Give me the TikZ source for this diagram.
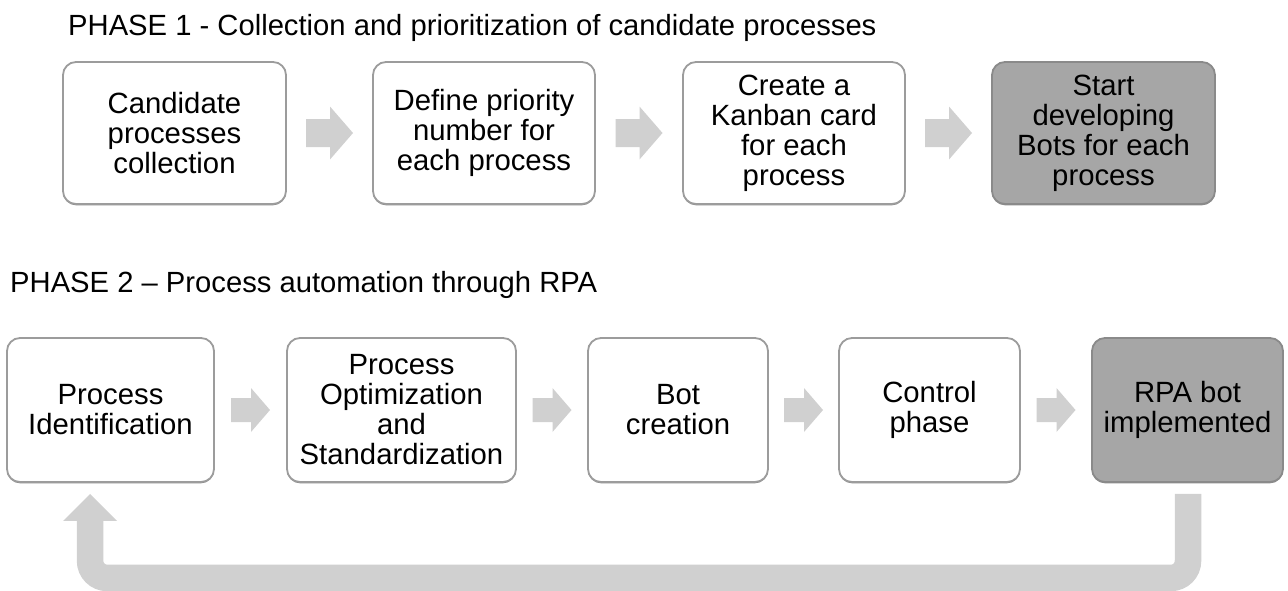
\documentclass[tikz,border=0pt]{standalone}
\usepackage{fontspec}
\setmainfont{Liberation Sans}
\usetikzlibrary{calc,shadows}

\definecolor{boxline}{HTML}{9C9C9C}
\definecolor{boxdark}{HTML}{A6A6A6}
\definecolor{boxdarkline}{HTML}{8A8A8A}
\definecolor{flowgray}{HTML}{D0D0D0}

% block arrow centred in the gap between two nodes:
% #1 from, #2 to, #3 total length, #4 head length, #5 shaft half height, #6 head half height
\newcommand{\blockarrow}[6]{%
  \path (#1.east) -- (#2.west) coordinate[midway] (mid);
  \fill[flowgray]
    ($(mid)+(-#3/2,-#5)$) -- ($(mid)+(#3/2-#4,-#5)$) -- ($(mid)+(#3/2-#4,-#6)$)
    -- ($(mid)+(#3/2,0)$) -- ($(mid)+(#3/2-#4,#6)$) -- ($(mid)+(#3/2-#4,#5)$)
    -- ($(mid)+(-#3/2,#5)$) -- cycle;
}

\begin{document}
\begin{tikzpicture}[x=1pt,y=-1pt,
  stepbox/.style={draw=boxline, line width=1.8pt, rounded corners=13pt, fill=white,
    align=center, inner sep=0pt, font=\fontsize{29.3}{30}\selectfont,
    general shadow={shadow yshift=-1.3pt, fill=black!45}},
  endbox/.style={stepbox, fill=boxdark, draw=boxdarkline},
  phasetitle/.style={anchor=base west, inner sep=0pt, font=\fontsize{29.2}{30}\selectfont},
  returnflow/.style={draw=flowgray, line width=26.5pt, rounded corners=17pt}]
\useasboundingbox (0,0) rectangle (1288,590);

% phase titles
\node[phasetitle] (t1) at (68,35) {PHASE 1 - Collection and prioritization of candidate processes};
\node[phasetitle] (t2) at (10,292) {PHASE 2 – Process automation through RPA};

% phase 1 steps
\node[stepbox, minimum width=223, minimum height=142] (p1a) at (174.5,133) {Candidate\\processes\\collection};
\node[stepbox, minimum width=222, minimum height=142] (p1b) at (484,133) {Define priority\\number for\\each process};
\node[stepbox, minimum width=222, minimum height=142] (p1c) at (794,133) {Create a\\Kanban card\\for each\\process};
\node[endbox,  minimum width=223, minimum height=142] (p1d) at (1103.5,133) {Start\\developing\\Bots for each\\process};

\blockarrow{p1a}{p1b}{47}{23}{14}{26.5}
\blockarrow{p1b}{p1c}{47}{23}{14}{26.5}
\blockarrow{p1c}{p1d}{47}{23}{14}{26.5}

% phase 2 steps
\node[stepbox, minimum width=207, minimum height=144] (p2a) at (110.5,410) {Process\\Identification};
\node[stepbox, minimum width=229, minimum height=144] (p2b) at (401.5,410) {Process\\Optimization\\and\\Standardization};
\node[stepbox, minimum width=180, minimum height=144] (p2c) at (678,410) {Bot\\creation};
\node[stepbox, minimum width=181, minimum height=144] (p2d) at (929.5,410) {Control\\phase};
\node[endbox,  minimum width=191, minimum height=144] (p2e) at (1187.5,410) {RPA bot\\implemented};

\blockarrow{p2a}{p2b}{39}{19}{12}{22}
\blockarrow{p2b}{p2c}{39}{19}{12}{22}
\blockarrow{p2c}{p2d}{39}{19}{12}{22}
\blockarrow{p2d}{p2e}{39}{19}{12}{22}

% feedback loop from the implemented bot back to identification
\coordinate (loopstart) at ($(p2e.south)+(0.5,11)$);
\coordinate (looptip) at ($(p2a.south west)+(84,11)$);
\draw[returnflow] (loopstart) -- ++(0,84) -| ($(looptip)+(0,27)$);
\fill[flowgray] (looptip) -- ($(looptip)+(27,27)$) -- ($(looptip)+(-27,27)$) -- cycle;
\end{tikzpicture}
\end{document}
